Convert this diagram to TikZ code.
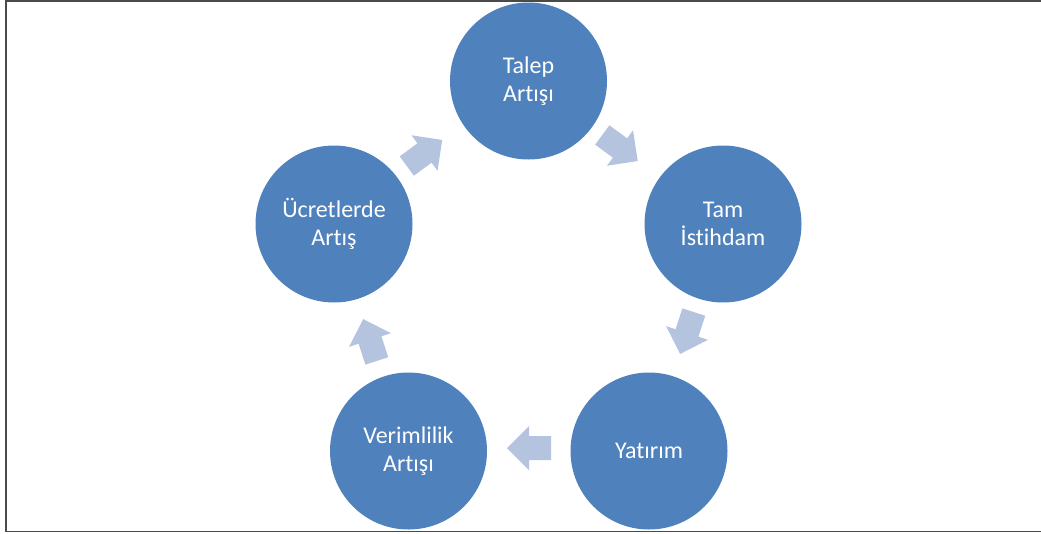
\documentclass[tikz,border=0pt]{standalone}
\usepackage{fontspec}
\setmainfont{Carlito}[Ligatures={NoCommon}]
\definecolor{bubblue}{HTML}{4F81BD}
\definecolor{arrblue}{HTML}{B4C3DE}
\definecolor{framegray}{HTML}{4A4A4A}
\tikzset{
  bub/.style={circle, fill=bubblue, draw=none, minimum size=157pt, inner sep=0pt,
    text=white, align=center, font=\fontsize{24pt}{28pt}\selectfont},
  blockarrow/.style={fill=arrblue, draw=none},
  framestyle/.style={draw=framegray, line width=1.5pt}
}
\begin{document}
\begin{tikzpicture}[x=1pt,y=-1pt]
\useasboundingbox (0,0) rectangle (1041,533);
\draw[framestyle] (1045,0.75) -- (6,0.75) -- (6,531.5) -- (1045,531.5);
\node[bub] (talep) at (528.5,81) {Talep\\Artışı};
\node[bub] (tam) at (723,224) {Tam\\İstihdam};
\node[bub] (yat) at (649,451) {Yatırım};
\node[bub] (ver) at (408.5,451) {Verimlilik\\Artışı};
\node[bub] (ucr) at (334,224) {Ücretlerde\\Artış};
\foreach \c/\a in {{(424.5,153)}/36.3, {(620,148)}/-36.3, {(687,333)}/-108, {(529,448)}/180, {(370,340)}/108}{
  \fill[blockarrow, shift={\c}, rotate=\a] (-22,-12) -- (0,-12) -- (0,-22) -- (22,0) -- (0,22) -- (0,12) -- (-22,12) -- cycle;
}
\end{tikzpicture}
\end{document}
